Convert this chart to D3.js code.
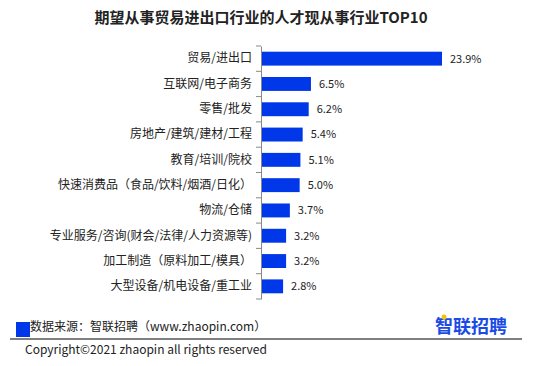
<!DOCTYPE html>
<html>
<head>
<meta charset="utf-8">
<script src="https://cdn.jsdelivr.net/npm/d3@7"></script>
<style>
  body { margin: 0; background: #fff; }
  text { font-family: "Noto Sans CJK SC", "DejaVu Sans", sans-serif; }
</style>
</head>
<body>
<div id="plot"></div>
<script>
// categories and shares (%)
const industries = [
  "贸易/进出口",
  "互联网/电子商务",
  "零售/批发",
  "房地产/建筑/建材/工程",
  "教育/培训/院校",
  "快速消费品（食品/饮料/烟酒/日化）",
  "物流/仓储",
  "专业服务/咨询(财会/法律/人力资源等)",
  "加工制造（原料加工/模具）",
  "大型设备/机电设备/重工业"
];
const shares = [23.9, 6.5, 6.2, 5.4, 5.1, 5.0, 3.7, 3.2, 3.2, 2.8];

const width = 550, height = 366;
const margin = {top: 46, left: 261, bottom: 67};
const blue = "#0037e8";

const svg = d3.select("#plot").append("svg")
  .attr("width", width)
  .attr("height", height);

// title
svg.append("text")
  .attr("x", 261).attr("y", 23)
  .attr("text-anchor", "middle")
  .style("font-size", "15px")
  .style("font-weight", "bold")
  .attr("fill", "#222")
  .text("期望从事贸易进出口行业的人才现从事行业TOP10");

const y = d3.scaleBand(industries, [margin.top, height - margin.bottom])
  .paddingInner(0.45).paddingOuter(0.225);
const x = d3.scaleLinear([0, 23.9], [margin.left + 1, 442]);

// axis line + boundary ticks
const yAxis = d3.axisLeft(y).tickSize(0).tickPadding(9);
const ax = svg.append("g")
  .attr("transform", `translate(${margin.left},0)`)
  .call(yAxis);
ax.select(".domain").attr("stroke", "#888");
ax.selectAll("text")
  .style("font-size", "12px")
  .attr("fill", "#222");

const bounds = d3.range(industries.length + 1).map(i => margin.top + i * (height - margin.bottom - margin.top) / industries.length);
svg.append("g").selectAll("line")
  .data(bounds)
  .join("line")
    .attr("x1", margin.left - 5).attr("x2", margin.left)
    .attr("y1", d => d).attr("y2", d => d)
    .attr("stroke", "#888");

// bars
svg.append("g").selectAll("rect")
  .data(shares)
  .join("rect")
    .attr("x", x(0))
    .attr("y", (d, i) => y(industries[i]))
    .attr("width", d => x(d) - x(0))
    .attr("height", y.bandwidth())
    .attr("fill", blue);

// value labels
svg.append("g").selectAll("text")
  .data(shares)
  .join("text")
    .attr("x", d => x(d) + 8)
    .attr("y", (d, i) => y(industries[i]) + y.bandwidth() / 2)
    .attr("dy", "0.35em")
    .style("font-size", "11px")
    .attr("fill", "#222")
    .text(d => d.toFixed(1) + "%");

// footer
svg.append("rect")
  .attr("x", 16).attr("y", 322)
  .attr("width", 14).attr("height", 15)
  .attr("fill", blue);
svg.append("text")
  .attr("x", 30).attr("y", 331)
  .style("font-size", "12px")
  .attr("fill", "#222")
  .text("数据来源：智联招聘（www.zhaopin.com）");

svg.append("text")
  .attr("x", 435).attr("y", 333)
  .style("font-size", "18px")
  .style("font-weight", "bold")
  .attr("fill", "#1a4be6")
  .text("智联招聘");
svg.append("circle")
  .attr("cx", 444).attr("cy", 317).attr("r", 2.5)
  .attr("fill", "#f5c400");

svg.append("line")
  .attr("x1", 10).attr("x2", 522)
  .attr("y1", 339).attr("y2", 339)
  .attr("stroke", "#000");

svg.append("text")
  .attr("x", 25).attr("y", 354)
  .style("font-size", "12px")
  .attr("fill", "#222")
  .text("Copyright©2021 zhaopin all rights reserved");
</script>
</body>
</html>
